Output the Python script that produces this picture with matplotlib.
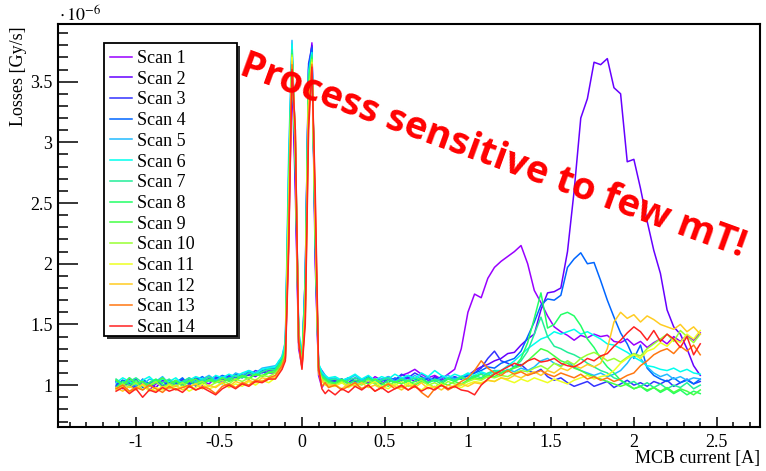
import numpy as np
import matplotlib.pyplot as plt
from matplotlib.ticker import MultipleLocator, FuncFormatter
from matplotlib.patches import Rectangle

plt.rcParams['font.family'] = ['Liberation Serif', 'DejaVu Serif']
plt.rcParams['mathtext.fontset'] = 'stix'

# MCB current grid [A]: coarse on the flanks, fine around the two peaks
x_current = np.round(np.concatenate([np.arange(-1.12, -0.19, 0.04),
                                     np.arange(-0.16, 0.17, 0.02),
                                     np.arange(0.20, 2.41, 0.04)]), 2)

# losses in units of 1e-6 Gy/s
scan_1 = [1.02, 0.97, 1.05, 0.99, 1.03, 0.96, 1.01, 1.04, 0.98, 1.02, 1.00, 1.05, 0.99, 1.03, 1.01, 1.06, 1.02, 1.07, 1.04, 1.08, 1.05, 1.10, 1.07, 1.12,
          1.12, 1.15, 1.17, 1.22, 2.2, 3.55, 2.6, 1.3, 1.15, 1.7, 3.5, 3.82, 2.1, 1.08, 0.98, 1.02, 1.05,
          1.04, 1.02, 1.06, 1.03, 1.05, 1.02, 1.07, 1.04, 1.06, 1.03, 1.08, 1.10, 1.13, 1.09, 1.06, 1.08, 1.05, 1.09, 1.13, 1.30,
          1.60, 1.75, 1.72, 1.88, 1.97, 2.02, 2.06, 2.10, 2.15, 2.00, 1.78, 1.68, 1.57, 1.48, 1.44, 1.41, 1.37, 1.41, 1.39, 1.42,
          1.40, 1.41, 1.36, 1.35, 1.38, 1.33, 1.36, 1.31, 1.35, 1.38, 1.34, 1.40, 1.36, 1.41, 1.37, 1.43]
scan_2 = [0.99, 1.04, 1.00, 0.97, 1.03, 1.01, 0.98, 1.04, 1.02, 0.99, 1.05, 1.01, 1.03, 1.00, 1.06, 1.03, 1.05, 1.04, 1.08, 1.06, 1.09, 1.07, 1.11, 1.10,
          1.10, 1.14, 1.19, 1.28, 2.4, 3.70, 2.7, 1.35, 1.18, 1.8, 3.6, 3.80, 2.0, 1.12, 1.06, 1.04, 1.03,
          1.03, 1.05, 1.01, 1.04, 1.02, 1.06, 1.03, 1.01, 1.05, 1.02, 1.04, 1.06, 1.03, 1.05, 1.02, 1.07, 1.04, 1.06, 1.05, 1.07,
          1.08, 1.12, 1.15, 1.17, 1.20, 1.22, 1.26, 1.27, 1.33, 1.38, 1.42, 1.62, 1.76, 1.77, 1.80, 2.10, 2.60, 3.20, 3.36, 3.66,
          3.64, 3.69, 3.45, 3.40, 2.84, 2.86, 2.62, 2.35, 2.11, 1.92, 1.62, 1.48, 1.42, 1.30, 1.16, 1.08]
scan_3 = [1.03, 0.99, 1.01, 1.05, 0.98, 1.02, 1.04, 0.99, 1.03, 1.01, 1.04, 1.02, 1.06, 1.03, 1.05, 1.07, 1.04, 1.08, 1.06, 1.09, 1.08, 1.12, 1.10, 1.13,
          1.13, 1.16, 1.21, 1.30, 2.6, 3.75, 2.8, 1.40, 1.20, 1.9, 3.65, 3.79, 2.2, 1.16, 1.12, 1.08, 1.05,
          1.03, 1.05, 1.02, 1.06, 1.04, 1.01, 1.05, 1.03, 1.07, 1.04, 1.09, 1.06, 1.10, 1.07, 1.04, 1.06, 1.03, 1.05, 1.07, 1.05,
          1.08, 1.10, 1.14, 1.22, 1.28, 1.20, 1.18, 1.15, 1.17, 1.12, 1.10, 1.13, 1.07, 1.04, 1.06, 1.02, 0.99, 1.01, 1.03, 0.99,
          1.01, 1.03, 0.98, 1.01, 1.04, 1.00, 1.02, 0.99, 1.03, 1.01, 1.04, 0.99, 1.02, 1.05, 1.01, 1.03]
scan_4 = [1.00, 1.04, 1.02, 0.98, 1.05, 1.01, 1.03, 0.99, 1.04, 1.02, 1.06, 1.00, 1.04, 1.07, 1.03, 1.05, 1.08, 1.06, 1.09, 1.07, 1.11, 1.09, 1.12, 1.14,
          1.14, 1.18, 1.22, 1.33, 2.7, 3.78, 2.9, 1.42, 1.21, 1.9, 3.62, 3.77, 2.2, 1.15, 1.09, 1.06, 1.04,
          1.05, 1.03, 1.06, 1.02, 1.04, 1.07, 1.03, 1.05, 1.02, 1.06, 1.04, 1.08, 1.05, 1.03, 1.06, 1.04, 1.07, 1.05, 1.06, 1.05,
          1.08, 1.10, 1.12, 1.15, 1.14, 1.18, 1.20, 1.22, 1.28, 1.40, 1.52, 1.66, 1.71, 1.70, 1.74, 1.97, 2.04, 2.09, 2.00, 2.01,
          1.86, 1.70, 1.56, 1.43, 1.34, 1.22, 1.33, 1.14, 1.08, 1.05, 1.03, 1.06, 1.02, 1.04, 1.01, 1.05]
scan_5 = [1.04, 1.01, 1.06, 1.02, 1.00, 1.05, 1.03, 1.07, 1.01, 1.04, 1.02, 1.06, 1.03, 1.05, 1.08, 1.04, 1.07, 1.05, 1.10, 1.08, 1.12, 1.10, 1.14, 1.15,
          1.16, 1.19, 1.24, 1.36, 2.9, 3.84, 3.0, 1.45, 1.22, 1.8, 3.55, 3.72, 2.3, 1.17, 1.10, 1.07, 1.05,
          1.06, 1.03, 1.05, 1.08, 1.04, 1.06, 1.02, 1.05, 1.07, 1.03, 1.06, 1.04, 1.08, 1.05, 1.07, 1.03, 1.06, 1.08, 1.05, 1.07,
          1.09, 1.06, 1.10, 1.08, 1.12, 1.10, 1.13, 1.11, 1.14, 1.12, 1.15, 1.20, 1.22, 1.18, 1.16, 1.20, 1.15, 1.12, 1.10, 1.08,
          1.10, 1.07, 1.09, 1.12, 1.18, 1.26, 1.22, 1.15, 1.10, 1.07, 1.09, 1.05, 1.07, 1.04, 1.06, 1.05]
scan_6 = [1.02, 1.06, 1.03, 1.00, 1.04, 1.07, 1.02, 1.05, 1.03, 1.06, 1.01, 1.04, 1.07, 1.05, 1.03, 1.08, 1.06, 1.09, 1.07, 1.10, 1.12, 1.09, 1.13, 1.14,
          1.15, 1.20, 1.23, 1.35, 2.8, 3.81, 3.0, 1.45, 1.22, 1.85, 3.58, 3.74, 2.3, 1.18, 1.11, 1.08, 1.06,
          1.07, 1.04, 1.06, 1.09, 1.05, 1.08, 1.04, 1.07, 1.05, 1.09, 1.06, 1.08, 1.05, 1.10, 1.07, 1.12, 1.08, 1.06, 1.09, 1.07,
          1.10, 1.08, 1.11, 1.09, 1.12, 1.12, 1.16, 1.20, 1.25, 1.30, 1.34, 1.38, 1.40, 1.44, 1.42, 1.44, 1.46, 1.42, 1.44, 1.41,
          1.38, 1.34, 1.33, 1.30, 1.27, 1.23, 1.20, 1.16, 1.15, 1.13, 1.12, 1.14, 1.11, 1.13, 1.10, 1.09]
scan_7 = [1.05, 1.01, 1.03, 1.06, 1.02, 0.99, 1.04, 1.02, 1.05, 1.00, 1.03, 1.06, 1.02, 1.04, 1.07, 1.03, 1.06, 1.04, 1.08, 1.06, 1.10, 1.08, 1.11, 1.13,
          1.13, 1.17, 1.21, 1.31, 2.7, 3.76, 2.9, 1.42, 1.20, 1.8, 3.55, 3.72, 2.2, 1.15, 1.08, 1.06, 1.04,
          1.05, 1.02, 1.04, 1.06, 1.03, 1.05, 1.01, 1.04, 1.06, 1.02, 1.05, 1.03, 1.06, 1.04, 1.02, 1.05, 1.03, 1.06, 1.04, 1.07,
          1.05, 1.08, 1.06, 1.10, 1.12, 1.10, 1.12, 1.15, 1.20, 1.28, 1.42, 1.56, 1.40, 1.32, 1.30, 1.27, 1.25, 1.22, 1.18, 1.15,
          1.12, 1.10, 1.06, 1.04, 1.01, 1.03, 0.99, 1.02, 0.98, 1.01, 0.97, 1.00, 0.98, 1.02, 0.97, 1.00]
scan_8 = [0.98, 1.03, 1.00, 1.04, 0.99, 1.02, 1.05, 1.01, 0.98, 1.03, 1.01, 1.04, 1.00, 1.02, 1.05, 1.03, 1.01, 1.06, 1.04, 1.07, 1.05, 1.09, 1.08, 1.11,
          1.12, 1.16, 1.20, 1.29, 2.6, 3.73, 2.9, 1.40, 1.19, 1.75, 3.5, 3.70, 2.2, 1.14, 1.07, 1.05, 1.03,
          1.02, 1.05, 1.01, 1.04, 1.02, 1.06, 1.03, 1.00, 1.04, 1.02, 1.05, 1.01, 1.03, 1.06, 1.02, 1.04, 1.01, 1.05, 1.03, 1.06,
          1.04, 1.07, 1.09, 1.06, 1.10, 1.12, 1.11, 1.15, 1.22, 1.35, 1.55, 1.76, 1.47, 1.50, 1.58, 1.60, 1.57, 1.49, 1.38, 1.31,
          1.22, 1.15, 1.10, 1.04, 1.00, 0.97, 0.99, 0.95, 0.98, 0.94, 0.97, 0.93, 0.96, 0.92, 0.95, 0.93]
scan_9 = [1.04, 1.00, 1.06, 1.01, 1.03, 0.99, 1.02, 1.06, 1.01, 1.04, 0.99, 1.03, 1.05, 1.01, 1.04, 1.02, 1.06, 1.03, 1.05, 1.08, 1.06, 1.09, 1.07, 1.10,
          1.11, 1.15, 1.19, 1.28, 2.5, 3.71, 2.9, 1.38, 1.18, 1.7, 3.45, 3.69, 2.3, 1.13, 1.06, 1.04, 1.02,
          1.01, 1.04, 1.02, 0.99, 1.03, 1.01, 1.05, 1.02, 0.99, 1.03, 1.01, 1.04, 1.00, 1.03, 1.01, 0.98, 1.02, 1.00, 1.03, 1.01,
          1.04, 1.06, 1.05, 1.08, 1.07, 1.10, 1.12, 1.14, 1.16, 1.20, 1.25, 1.30, 1.28, 1.24, 1.20, 1.18, 1.14, 1.12, 1.09, 1.07,
          1.05, 1.03, 1.01, 0.99, 1.01, 0.97, 0.99, 0.96, 0.98, 0.95, 0.98, 0.94, 0.97, 0.95, 0.92, 0.96]
scan_10 = [0.97, 1.01, 0.98, 1.02, 0.96, 1.00, 1.03, 0.98, 1.01, 0.99, 1.02, 0.98, 1.01, 1.03, 0.99, 1.02, 1.04, 1.01, 1.05, 1.03, 1.06, 1.04, 1.08, 1.07,
           1.10, 1.13, 1.17, 1.26, 2.5, 3.72, 2.95, 1.37, 1.17, 1.7, 3.4, 3.68, 2.3, 1.12, 1.05, 1.03, 1.01,
           1.00, 1.03, 0.99, 1.02, 1.00, 1.04, 1.01, 0.98, 1.02, 1.00, 1.03, 0.99, 1.01, 1.04, 1.00, 1.02, 0.99, 1.03, 1.01, 1.00,
           1.03, 1.05, 1.04, 1.07, 1.06, 1.08, 1.07, 1.10, 1.12, 1.11, 1.14, 1.16, 1.13, 1.18, 1.15, 1.20, 1.17, 1.22, 1.25, 1.27,
           1.24, 1.20, 1.22, 1.19, 1.23, 1.26, 1.24, 1.30, 1.34, 1.38, 1.42, 1.36, 1.45, 1.40, 1.35, 1.42]
scan_11 = [0.96, 0.99, 0.94, 0.98, 1.00, 0.95, 0.98, 0.96, 1.00, 0.97, 0.99, 0.95, 0.98, 1.01, 0.97, 0.99, 1.02, 0.98, 1.01, 0.99, 1.03, 1.00, 1.04, 1.02,
           1.06, 1.10, 1.14, 1.22, 2.4, 3.70, 3.0, 1.35, 1.15, 1.6, 3.3, 3.66, 2.4, 1.10, 1.03, 1.00, 0.99,
           0.99, 1.02, 0.98, 1.01, 0.97, 1.00, 1.03, 0.99, 0.97, 1.01, 0.98, 1.02, 0.99, 0.96, 1.00, 0.98, 1.01, 0.97, 1.00, 0.98,
           1.01, 1.03, 1.02, 1.04, 1.03, 1.06, 1.04, 1.02, 1.05, 1.03, 1.06, 1.04, 1.02, 1.05, 1.03, 1.01, 1.04, 1.06, 1.08, 1.05,
           1.07, 1.08, 1.12, 1.18, 1.22, 1.25, 1.22, 1.28, 1.30, 1.35, 1.32, 1.38, 1.35, 1.42, 1.38, 1.45]
scan_12 = [0.98, 0.95, 0.99, 0.96, 1.01, 0.97, 0.95, 0.99, 0.97, 1.00, 0.96, 0.99, 1.01, 0.97, 1.00, 0.98, 1.02, 0.99, 1.03, 1.01, 1.04, 1.02, 1.06, 1.05,
           1.07, 1.11, 1.15, 1.23, 2.3, 3.67, 3.05, 1.36, 1.14, 1.6, 3.3, 3.65, 2.4, 1.11, 1.04, 1.01, 1.00,
           1.00, 0.97, 1.01, 0.99, 1.02, 0.98, 1.00, 0.97, 1.01, 0.99, 0.96, 1.00, 0.98, 1.02, 0.97, 0.99, 0.96, 1.00, 0.98, 1.01,
           0.99, 1.02, 1.01, 1.04, 1.03, 1.06, 1.05, 1.08, 1.06, 1.09, 1.11, 1.08, 1.12, 1.10, 1.14, 1.12, 1.16, 1.14, 1.17, 1.15,
           1.18, 1.30, 1.52, 1.60, 1.55, 1.58, 1.52, 1.57, 1.54, 1.50, 1.48, 1.46, 1.50, 1.44, 1.48, 1.42]
scan_13 = [0.97, 1.00, 0.95, 0.98, 0.96, 1.00, 0.97, 0.94, 0.99, 0.96, 0.98, 1.00, 0.96, 0.99, 0.97, 0.93, 0.99, 1.01, 0.98, 1.02, 1.00, 1.04, 1.03, 1.06,
           1.08, 1.12, 1.16, 1.24, 2.2, 3.64, 3.1, 1.38, 1.15, 1.55, 3.2, 3.64, 2.5, 1.12, 0.99, 1.02, 0.98,
           1.00, 0.96, 0.99, 1.02, 0.97, 1.00, 0.95, 0.98, 1.01, 0.97, 0.99, 0.96, 1.00, 0.94, 0.90, 0.97, 1.00, 0.96, 0.99, 1.03,
           1.06, 1.12, 1.20, 1.14, 1.10, 1.08, 1.12, 1.09, 1.11, 1.08, 1.10, 1.12, 1.09, 1.07, 1.10, 1.08, 1.06, 1.09, 1.05, 1.07,
           1.04, 1.06, 1.03, 1.05, 1.08, 1.10, 1.16, 1.20, 1.25, 1.28, 1.30, 1.26, 1.32, 1.28, 1.33, 1.25]
scan_14 = [0.95, 0.98, 0.93, 0.97, 0.90, 0.96, 0.94, 0.98, 0.95, 0.97, 0.94, 0.99, 0.96, 0.98, 0.95, 0.92, 0.97, 1.00, 0.97, 1.01, 0.99, 1.03, 1.02, 1.05,
           1.05, 1.09, 1.13, 1.20, 2.1, 3.60, 3.1, 1.35, 1.13, 1.5, 3.1, 3.62, 2.6, 1.15, 0.97, 0.93, 0.96,
           0.92, 0.97, 0.94, 0.99, 0.96, 1.00, 0.95, 0.98, 0.94, 0.97, 1.00, 0.96, 0.99, 0.95, 0.98, 0.96, 1.00, 0.97, 0.99, 0.96,
           0.95, 0.92, 1.00, 1.05, 1.09, 1.12, 1.15, 1.18, 1.16, 1.20, 1.22, 1.19, 1.20, 1.22, 1.18, 1.16, 1.15, 1.18, 1.22, 1.20,
           1.24, 1.26, 1.32, 1.37, 1.43, 1.48, 1.44, 1.37, 1.45, 1.36, 1.42, 1.38, 1.31, 1.40, 1.25, 1.34]

scans = [scan_1, scan_2, scan_3, scan_4, scan_5, scan_6, scan_7,
         scan_8, scan_9, scan_10, scan_11, scan_12, scan_13, scan_14]
scan_labels = ['Scan %d' % (i + 1) for i in range(len(scans))]
scan_colors = ['#9900ff', '#6600ff', '#3333ff', '#0066ff', '#22bbff', '#00ffee', '#22ee99',
               '#22ff66', '#44ff44', '#99ff33', '#eeff22', '#ffcc22', '#ff7711', '#ff2222']

W, H = 766, 471
fig = plt.figure(figsize=(W / 100, H / 100), dpi=100)
ax = fig.add_axes([58 / W, 1 - 427 / H, (760 - 58) / W, (427 - 24) / H])

for scan, lab, col in zip(scans, scan_labels, scan_colors):
    ax.plot(x_current, scan, color=col, lw=1.1, label=lab)

ax.set_xlim(-1.47, 2.76)
ax.set_ylim(0.655, 3.975)
ax.xaxis.set_major_locator(MultipleLocator(0.5))
ax.xaxis.set_minor_locator(MultipleLocator(0.1))
ax.yaxis.set_major_locator(MultipleLocator(0.5))
ax.yaxis.set_minor_locator(MultipleLocator(0.1))
fmt = FuncFormatter(lambda v, p: '%g' % (round(v, 2) + 0.0))
ax.xaxis.set_major_formatter(fmt)
ax.yaxis.set_major_formatter(fmt)
ax.tick_params(axis='x', which='major', direction='in', length=7.5, width=1.1, labelsize=13, pad=5)
ax.tick_params(axis='x', which='minor', direction='in', length=3.6, width=1.1)
ax.tick_params(axis='y', which='major', direction='in', length=14.5, width=1.1, labelsize=13, pad=4)
ax.tick_params(axis='y', which='minor', direction='in', length=7.2, width=1.1)
for sp in ax.spines.values():
    sp.set_linewidth(1.5)

# ROOT-style legend box with shadow
ax.add_patch(Rectangle((107 / W, 1 - 339 / H), 133 / W, 293 / H, transform=fig.transFigure,
                       facecolor='#333333', edgecolor='none', zorder=5, clip_on=False))
ax.add_patch(Rectangle((104 / W, 1 - 336 / H), 133 / W, 293 / H, transform=fig.transFigure,
                       facecolor='white', edgecolor='black', lw=1.3, zorder=6, clip_on=False))
leg = ax.legend(loc='upper left', bbox_to_anchor=(110 / W, 1 - 50 / H), bbox_transform=fig.transFigure,
                frameon=False, fontsize=13, borderpad=0, borderaxespad=0,
                handlelength=1.22, handletextpad=0.28, labelspacing=0.205)
leg.set_zorder(7)

fig.text(19 / W, 1 - 26 / H, 'Losses [Gy/s]', rotation=90, ha='center', va='top', fontsize=13)
fig.text(760 / W, 1 - 458 / H, 'MCB current [A]', ha='right', va='center', fontsize=13)
fig.text(59 / W, 1 - 16 / H, r'$\cdot\,10^{-6}$', ha='left', va='center', fontsize=13)

fig.text(493 / W, 1 - 156 / H, 'Process sensitive to few mT!', color='#ff0000', fontsize=27.5,
         fontweight='bold', family='Open Sans', rotation=-20, rotation_mode='anchor',
         ha='center', va='center', zorder=10)

fig.savefig('out.png', dpi=100)
